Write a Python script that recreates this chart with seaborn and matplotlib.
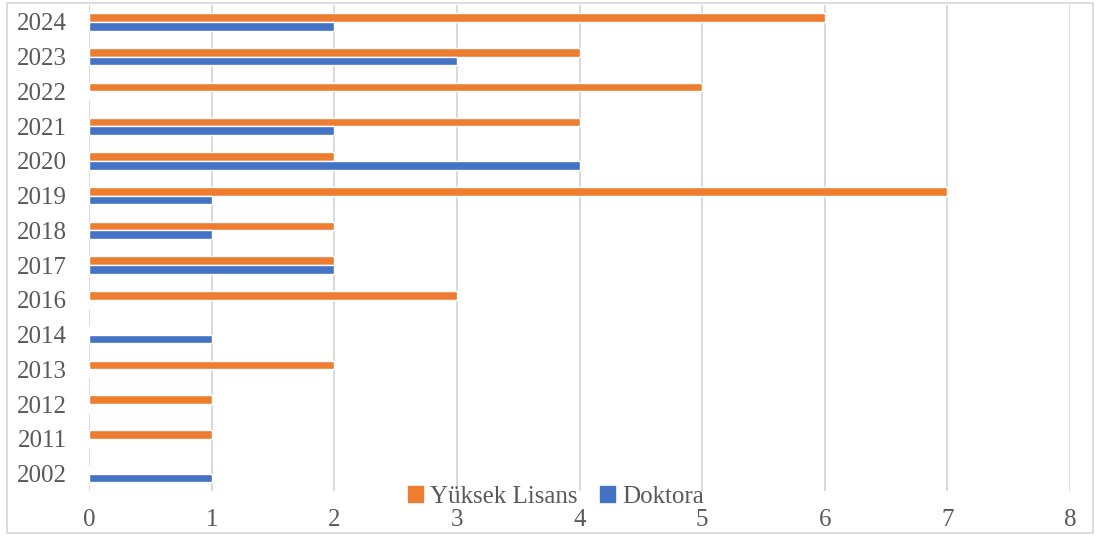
import matplotlib
matplotlib.use("Agg")
import matplotlib.pyplot as plt
import seaborn as sns
import pandas as pd
from matplotlib.patches import Rectangle

years = ["2024", "2023", "2022", "2021", "2020", "2019", "2018", "2017",
         "2016", "2014", "2013", "2012", "2011", "2002"]
yuksek_lisans = [6, 4, 5, 4, 2, 7, 2, 2, 3, 0, 2, 1, 1, 0]
doktora = [2, 3, 0, 2, 4, 1, 1, 2, 0, 1, 0, 0, 0, 1]
series = ["Yüksek Lisans", "Doktora"]
colors = ["#ED7D31", "#4472C4"]
x_ticks = [0, 1, 2, 3, 4, 5, 6, 7, 8]

df = pd.DataFrame({
    "Yıl": years * 2,
    "Sayı": yuksek_lisans + doktora,
    "Tür": [series[0]] * len(years) + [series[1]] * len(years),
})

sns.set_theme(style="white")
plt.rcParams["font.family"] = ["Liberation Serif", "DejaVu Serif"]

W, H = 1095, 536
fig = plt.figure(figsize=(W / 100, H / 100), dpi=100)
ax = fig.add_axes([89 / W, 1 - 491 / H, (1070 - 89) / W, (491 - 4.6) / H])

sns.barplot(data=df, y="Yıl", x="Sayı", hue="Tür", order=years,
            hue_order=series, palette=colors, orient="h", width=0.5,
            saturation=1, ax=ax, legend=False)

ax.set_xlim(0, 8)
ax.set_xticks(x_ticks)
ax.set_xlabel("")
ax.set_ylabel("")
for s in ax.spines.values():
    s.set_visible(False)
ax.grid(axis="x", color="#d9d9d9", linewidth=1.4)
ax.set_axisbelow(True)
ax.tick_params(axis="both", length=0, labelsize=18, labelcolor="#595959")
ax.tick_params(axis="x", pad=13)
ax.tick_params(axis="y", pad=16)

handles = [Rectangle((0, 0), 1, 1, color=c) for c in colors]
fig.legend(handles, series, loc="center", bbox_to_anchor=(556 / W, 1 - 497 / H),
           ncol=2, frameon=False, fontsize=18, handlelength=0.6, handleheight=0.6,
           handletextpad=0.3, columnspacing=0.9, labelcolor="#595959",
           borderpad=0, borderaxespad=0)

fig.patches.append(Rectangle((7 / W, 3 / H), (1093 - 7) / W, (533 - 3) / H,
                             transform=fig.transFigure, fill=False,
                             edgecolor="#d9d9d9", linewidth=1.3))

fig.savefig("out.png", dpi=100)
